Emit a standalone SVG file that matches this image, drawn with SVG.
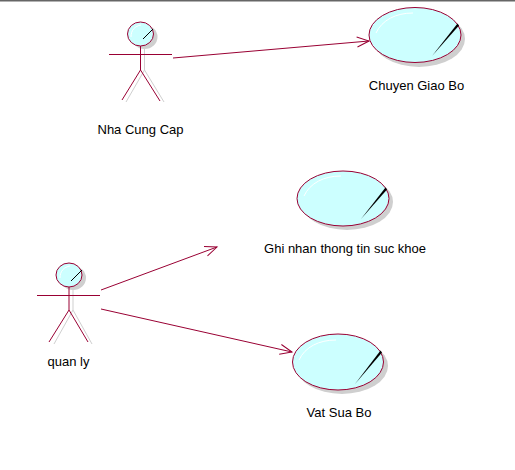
<svg xmlns="http://www.w3.org/2000/svg" width="515" height="470" viewBox="0 0 515 470">
<style>
.ln{fill:none;stroke:#990033;stroke-width:1}
.sh{fill:none;stroke:#cfcfcf;stroke-width:1}
.shf{fill:#cfcfcf}
.fl{fill:#ccffff;stroke:#990033;stroke-width:1}
.hl{fill:none;stroke:#ffffff;stroke-width:1}
.pt{fill:#000000}
.pl{fill:none;stroke:#000000;stroke-width:1}
.lb{font-family:"Liberation Sans",Arial,sans-serif;font-size:13px;fill:#000000;text-anchor:middle}
</style>
<defs>
<marker id="arr" markerUnits="userSpaceOnUse" markerWidth="16" markerHeight="14" refX="13" refY="7" orient="auto">
<path d="M1 2L13 7L1 12" fill="none" stroke="#990033" stroke-width="1"/>
</marker>
</defs>
<rect x="0" y="0" width="515" height="470" fill="#ffffff"/>
<rect x="0" y="0" width="515" height="1.500" fill="#666666"/>
<g id="connectors">
<path class="ln" d="M173 58L369 41" marker-end="url(#arr)"/>
<path class="ln" d="M101 290L217 247" marker-end="url(#arr)"/>
<path class="ln" d="M101 309L292 352" marker-end="url(#arr)"/>
</g>
<g id="actor-nha-cung-cap">
<ellipse class="shf" cx="144.500" cy="37" rx="13" ry="12"/>
<path class="sh" d="M144.500 46V70M144.500 70L126 102M144.500 70L164 102"/>
<ellipse class="fl" cx="140.500" cy="34" rx="13" ry="12"/>
<path class="hl" d="M131 37C131 30 135 26 141 25"/>
<path class="pl" d="M153 29L143 39"/>
<path class="ln" d="M109 54.500H172M140.500 46V70M140.500 70L122 100M140.500 70L160 101"/>
<text class="lb" x="140.500" y="134">Nha Cung Cap</text>
</g>
<g id="actor-quan-ly">
<ellipse class="shf" cx="73" cy="278" rx="13" ry="12"/>
<path class="sh" d="M73 287V310M73 310L54 344M73 310L92 344"/>
<ellipse class="fl" cx="69" cy="275" rx="13" ry="12"/>
<path class="hl" d="M60 278C60 271 64 267 70 266"/>
<path class="pl" d="M82 270L71 281"/>
<path class="ln" d="M37 295.500H100M69 287V310M69 310L49 342M69 310L88 342"/>
<text class="lb" x="68.500" y="366">quan ly</text>
</g>
<g id="usecase-chuyen-giao-bo">
<ellipse class="shf" cx="419" cy="39" rx="46" ry="28"/>
<ellipse class="fl" cx="415" cy="35" rx="46" ry="27.500"/>
<path class="hl" d="M376 33C382 20 396 13 413 13"/>
<path class="pt" d="M457.500 23.500L459 25.500L432 56Z"/>
<text class="lb" x="416.500" y="90">Chuyen Giao Bo</text>
</g>
<g id="usecase-ghi-nhan">
<ellipse class="shf" cx="347" cy="202" rx="46" ry="28"/>
<ellipse class="fl" cx="343" cy="198.500" rx="46" ry="27.500"/>
<path class="hl" d="M304 196C310 183 324 176 341 176"/>
<path class="pt" d="M385.500 187.500L387 189.500L361 219Z"/>
<text class="lb" x="345" y="253">Ghi nhan thong tin suc khoe</text>
</g>
<g id="usecase-vat-sua-bo">
<ellipse class="shf" cx="342" cy="366" rx="46" ry="28"/>
<ellipse class="fl" cx="338" cy="362" rx="45.500" ry="28"/>
<path class="hl" d="M299 360C305 347 319 340 336 340"/>
<path class="pt" d="M380.500 350.500L382 352.500L355 384Z"/>
<text class="lb" x="339" y="417">Vat Sua Bo</text>
</g>
</svg>
